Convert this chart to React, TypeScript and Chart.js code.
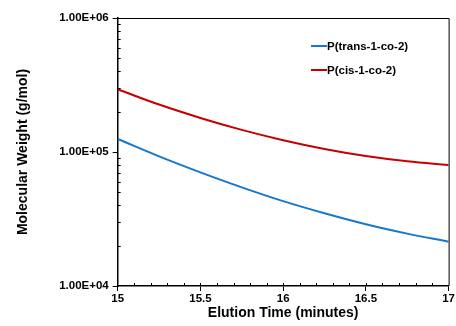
import React, { useEffect, useRef } from "react";
import { Chart, registerables } from "chart.js";

Chart.register(...registerables);

const times = [15, 15.25, 15.5, 15.75, 16, 16.25, 16.5, 16.75, 17];
const transMW = [125000, 92800, 70500, 54500, 43000, 34900, 28900, 24600, 21400];
const cisMW = [294000, 226000, 179500, 146200, 122500, 105400, 93300, 85200, 80000];
const seriesLabels = ["P(trans-1-co-2)", "P(cis-1-co-2)"];
const seriesColors = ["rgb(20,120,206)", "rgb(196,0,0)"];
const xTickValues = [15, 15.5, 16, 16.5, 17];
const yTickValues = [10000, 100000, 1000000];
const xTitle = "Elution Time (minutes)";
const yTitle = "Molecular Weight (g/mol)";

const FONT = "'Liberation Sans', Arial, sans-serif";

function fmtExp(v: number): string {
  const e = Math.round(Math.log10(v));
  const m = v / Math.pow(10, e);
  return m.toFixed(2) + "E+" + String(e).padStart(2, "0");
}

const decorPlugin = {
  id: "decor",
  afterDraw(chart: any) {
    const { ctx, chartArea } = chart;
    const { left, right, top, bottom } = chartArea;
    const xs = chart.scales.x;
    const ys = chart.scales.y;
    ctx.save();
    ctx.strokeStyle = "#000";
    ctx.lineWidth = 1;
    ctx.beginPath();
    ctx.moveTo(left, top + 0.5);
    ctx.lineTo(right + 0.5, top + 0.5);
    ctx.lineTo(right + 0.5, bottom);
    ctx.stroke();
    ctx.beginPath();
    for (let i = 1; i < 20; i++) {
      const v = 15 + i * 0.1;
      const px = Math.round(xs.getPixelForValue(v)) + 0.5;
      ctx.moveTo(px, bottom);
      ctx.lineTo(px, bottom - 3);
    }
    for (let d = 4; d < 6; d++) {
      for (let k = 2; k <= 9; k++) {
        const py = Math.round(ys.getPixelForValue(k * Math.pow(10, d))) + 0.5;
        ctx.moveTo(left, py);
        ctx.lineTo(left + 3, py);
      }
    }
    ctx.stroke();
    ctx.font = `bold 11.5px ${FONT}`;
    ctx.textBaseline = "middle";
    ctx.textAlign = "left";
    const lx = 311;
    const ly = [46, 70];
    chart.data.datasets.forEach((ds: any, i: number) => {
      ctx.strokeStyle = ds.borderColor;
      ctx.lineWidth = 2;
      ctx.beginPath();
      ctx.moveTo(lx, ly[i]);
      ctx.lineTo(lx + 16, ly[i]);
      ctx.stroke();
      ctx.fillStyle = "#000";
      ctx.fillText(ds.label, lx + 16, ly[i] + 0.5);
    });
    ctx.restore();
  },
};

export default function App() {
  const ref = useRef<HTMLCanvasElement | null>(null);
  useEffect(() => {
    document.body.style.margin = "0";
    const canvas = ref.current;
    if (!canvas) return;
    const chart = new Chart(canvas, {
      type: "line",
      data: {
        datasets: [transMW, cisMW].map((arr, i) => ({
          label: seriesLabels[i],
          data: times.map((t, j) => ({ x: t, y: arr[j] })),
          borderColor: seriesColors[i],
          backgroundColor: seriesColors[i],
          borderWidth: 2,
          pointRadius: 0,
          tension: 0.4,
          fill: false,
        })),
      },
      options: {
        animation: false,
        responsive: false,
        maintainAspectRatio: false,
        layout: { padding: { left: 0, right: 7, top: 18, bottom: 0 } },
        plugins: { legend: { display: false }, tooltip: { enabled: false } },
        scales: {
          x: {
            type: "linear",
            min: 15,
            max: 17,
            afterFit: (s: any) => {
              s.height = 40;
            },
            afterBuildTicks: (s: any) => {
              s.ticks = xTickValues.map((v) => ({ value: v }));
            },
            ticks: {
              color: "#000",
              font: { family: FONT, size: 11.5, weight: "bold" },
              padding: 1,
              maxRotation: 0,
              autoSkip: false,
              callback: (v: any) => String(v),
            },
            grid: {
              drawOnChartArea: false,
              drawTicks: true,
              tickLength: 5,
              color: "#000",
            },
            border: { display: true, color: "#000", width: 1.5 },
            title: {
              display: true,
              text: xTitle,
              color: "#000",
              font: { family: FONT, size: 14, weight: "bold" },
              padding: { top: 0, bottom: 4 },
            },
          },
          y: {
            type: "logarithmic",
            min: 10000,
            max: 1000000,
            afterFit: (s: any) => {
              s.width = 117.7;
            },
            afterBuildTicks: (s: any) => {
              s.ticks = yTickValues.map((v) => ({ value: v }));
            },
            ticks: {
              color: "#000",
              font: { family: FONT, size: 11.5, weight: "bold" },
              padding: 4,
              autoSkip: false,
              callback: (v: any) => fmtExp(Number(v)),
            },
            grid: {
              drawOnChartArea: false,
              drawTicks: true,
              tickLength: 5,
              color: "#000",
            },
            border: { display: true, color: "#000", width: 1.5 },
            title: {
              display: true,
              text: yTitle,
              color: "#000",
              font: { family: FONT, size: 14, weight: "bold" },
              padding: { top: 15, bottom: 0 },
            },
          },
        },
      },
      plugins: [decorPlugin],
    } as any);
    return () => chart.destroy();
  }, []);
  return (
    <div style={{ width: 456, height: 326, background: "#fff" }}>
      <canvas ref={ref} width={456} height={326} style={{ display: "block" }} />
    </div>
  );
}
